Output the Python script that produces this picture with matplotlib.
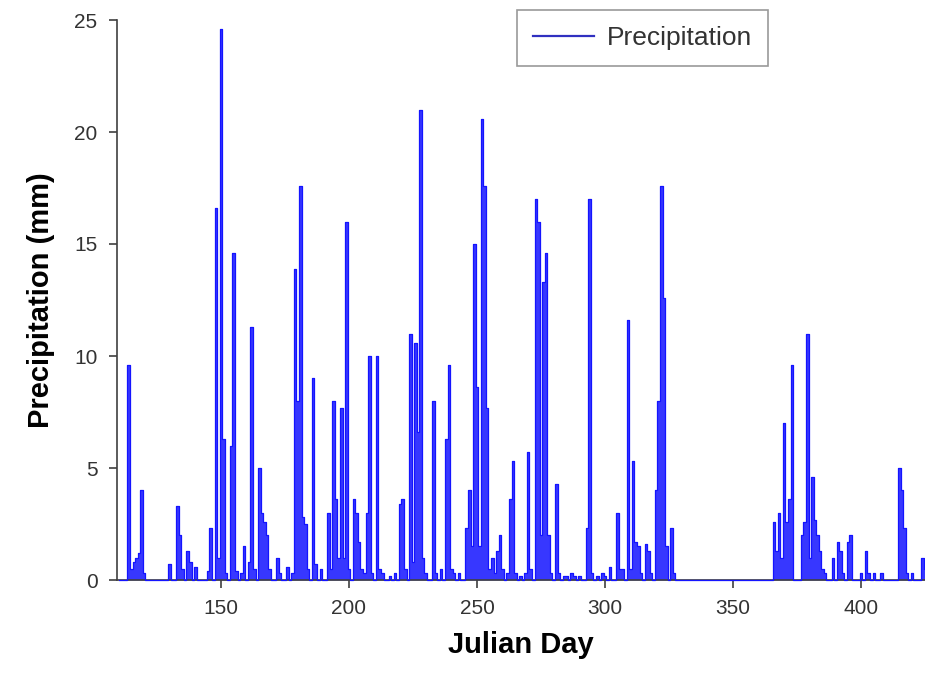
import numpy as np
import matplotlib.pyplot as plt

plt.rcParams['font.family'] = ['Liberation Sans', 'DejaVu Sans']

# rainy days (Julian day) and daily precipitation (mm);
# every other day in the record is dry (0 mm)
wet_days = [114, 115, 116, 117, 118, 119, 120, 130, 133, 134, 135, 137, 138, 140,
            145, 146, 148, 149, 150, 151, 152, 154, 155, 156, 158, 159, 161, 162,
            163, 165, 166, 167, 168, 169, 172, 173, 176, 178, 179, 180, 181, 182,
            183, 184, 186, 187, 189, 192, 193, 194, 195, 196, 197, 198, 199, 200,
            202, 203, 204, 205, 206, 207, 208, 209, 211, 212, 213, 216, 218, 220,
            221, 222, 224, 225, 226, 227, 228, 229, 230, 233, 234, 236, 238, 239,
            240, 241, 243, 246, 247, 248, 249, 250, 251, 252, 253, 254, 255, 256,
            257, 258, 259, 260, 262, 263, 264, 265, 267, 269, 270, 271, 273, 274,
            275, 276, 277, 278, 279, 281, 282, 284, 285, 287, 288, 290, 293, 294,
            295, 297, 299, 300, 302, 305, 306, 307, 309, 310, 311, 312, 313, 314,
            316, 317, 318, 320, 321, 322, 323, 324, 326, 327,
            366, 367, 368, 369, 370, 371, 372, 373, 377, 378, 379, 380, 381, 382,
            383, 384, 385, 386, 389, 391, 392, 393, 395, 396, 400, 402, 403, 405,
            408, 415, 416, 417, 418, 420, 424, 425]
wet_mm = [9.6, 0.5, 0.8, 1.0, 1.2, 4.0, 0.3, 0.7, 3.3, 2.0, 0.5, 1.3, 0.8, 0.6,
          0.4, 2.3, 16.6, 1.0, 24.6, 6.3, 0.3, 6.0, 14.6, 0.4, 0.3, 1.5, 0.8, 11.3,
          0.5, 5.0, 3.0, 2.6, 2.0, 0.5, 1.0, 0.3, 0.6, 0.3, 13.9, 8.0, 17.6, 2.8,
          2.5, 0.5, 9.0, 0.7, 0.5, 3.0, 0.5, 8.0, 3.6, 1.0, 7.7, 1.0, 16.0, 0.5,
          3.6, 3.0, 1.7, 0.5, 0.3, 3.0, 10.0, 0.3, 10.0, 0.5, 0.3, 0.2, 0.3, 3.4,
          3.6, 0.5, 11.0, 0.8, 10.6, 6.6, 21.0, 1.0, 0.3, 8.0, 0.3, 0.5, 6.3, 9.6,
          0.5, 0.3, 0.3, 2.3, 4.0, 1.5, 15.0, 8.6, 1.5, 20.6, 17.6, 7.7, 0.5, 1.0,
          0.3, 1.3, 2.0, 0.5, 0.3, 3.6, 5.3, 0.3, 0.2, 0.3, 5.7, 0.5, 17.0, 16.0,
          2.0, 13.3, 14.6, 2.0, 0.3, 4.3, 0.3, 0.2, 0.2, 0.3, 0.2, 0.2, 2.3, 17.0,
          0.3, 0.2, 0.3, 0.2, 0.6, 3.0, 0.5, 0.5, 11.6, 0.5, 5.3, 1.7, 1.5, 0.3,
          1.6, 1.3, 0.3, 4.0, 8.0, 17.6, 12.6, 1.5, 2.3, 0.3,
          2.6, 1.3, 3.0, 1.0, 7.0, 2.6, 3.6, 9.6, 2.0, 2.6, 11.0, 1.0, 4.6, 2.7,
          2.0, 1.3, 0.5, 0.3, 1.0, 1.7, 1.3, 0.3, 1.7, 2.0, 0.3, 1.3, 0.3, 0.3,
          0.3, 5.0, 4.0, 2.3, 0.3, 0.3, 1.0, 0.5]
first_day, last_day = 110, 425

days = np.arange(first_day, last_day + 1)
precip = np.zeros(len(days))
for d, v in zip(wet_days, wet_mm):
    precip[d - first_day] = v

fig = plt.figure(figsize=(9.25, 6.82), dpi=100)
fig.patch.set_facecolor('white')
ax = fig.add_axes([117/925, 1 - 580/682, 1 - 117/925, 560/682])

blue = '#1414ff'
ax.fill_between(days, precip, step='mid', color=blue, linewidth=0, alpha=0.85)
ax.plot(days, precip, color=blue, linewidth=0.9, drawstyle='steps-mid',
        zorder=3, clip_on=False, label='Precipitation')

ax.set_xlim(109.4, 425)
ax.set_ylim(0, 25)
ax.set_xticks([150, 200, 250, 300, 350, 400])
ax.set_yticks([0, 5, 10, 15, 20, 25])

for side in ['top', 'right']:
    ax.spines[side].set_visible(False)
for side in ['left', 'bottom']:
    ax.spines[side].set_color('#404040')
    ax.spines[side].set_linewidth(1.2)
ax.tick_params(direction='out', length=6, width=1.2, color='#404040',
               labelsize=15, labelcolor='#333333', pad=8)

ax.set_xlabel('Julian Day', fontsize=21, fontweight='bold', labelpad=9)
ax.set_ylabel('Precipitation (mm)', fontsize=21, fontweight='bold', labelpad=14)

leg = ax.legend(loc='upper left', bbox_to_anchor=(517/925, 1 - 10/682),
                bbox_transform=fig.transFigure, borderaxespad=0, fancybox=False,
                fontsize=19, handlelength=2.3, handletextpad=0.5, borderpad=0.6)
leg.get_frame().set_edgecolor('#808080')
leg.get_frame().set_linewidth(1.2)
leg.get_lines()[0].set_linewidth(1.6)
leg.get_lines()[0].set_color('#3030c0')
for t in leg.get_texts():
    t.set_color('#333333')

plt.savefig('out.png', dpi=100)
